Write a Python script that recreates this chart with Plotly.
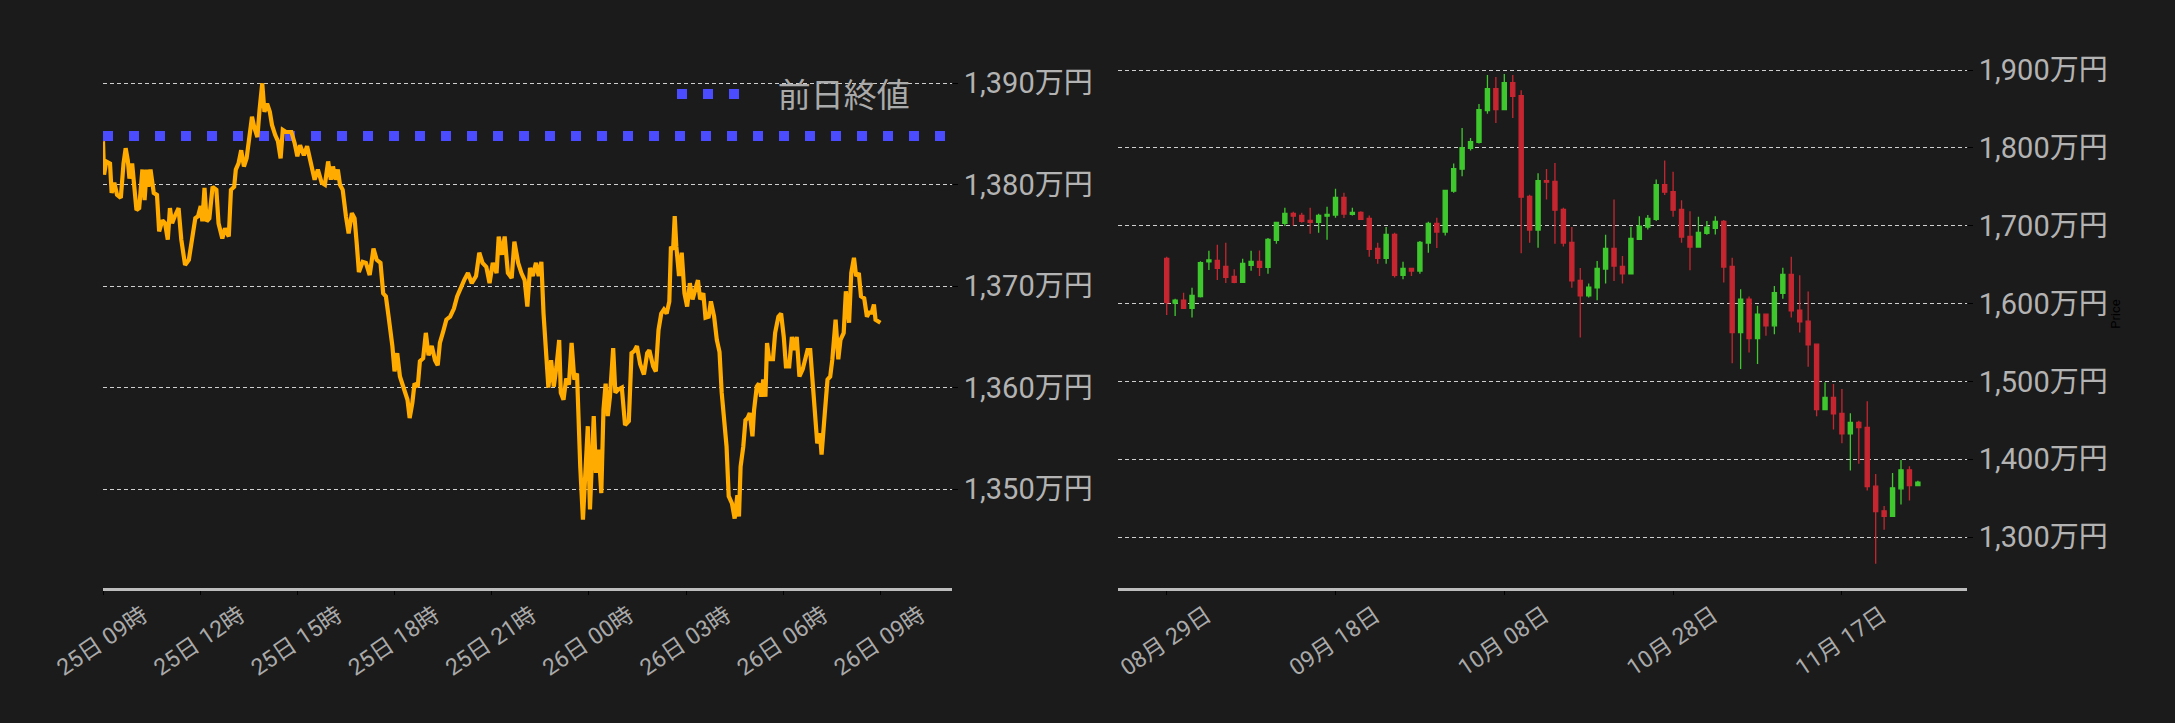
import pandas as pd
import plotly.graph_objects as go

# ---------------- data: intraday (minutes after 25日 09:00, price in 万円) ----------------
intraday_start = "2025-11-25 09:00"
intraday_minutes = [
    0, 2, 6, 13, 16, 21, 26, 33, 38, 42, 46, 49, 54, 57, 62, 67, 73, 77, 81, 84, 88, 94, 100,
    104, 110, 115, 120, 124, 128, 133, 140, 145, 152, 159, 165, 171, 176, 181, 184, 188, 192,
    197, 203, 210, 214, 221, 226, 233, 237, 243, 246, 251, 256, 261, 266, 271, 276, 280, 286,
    290, 295, 299, 304, 309, 313, 319, 324, 329, 333, 339, 349, 355, 360, 365, 372, 378, 385,
    392, 398, 405, 411, 417, 422, 426, 431, 435, 439, 444, 450, 455, 461, 466, 470, 474, 481,
    487, 494, 501, 507, 514, 519, 524, 529, 536, 540, 545, 550, 557, 564, 568, 573, 577, 583,
    587, 593, 598, 603, 609, 615, 620, 624, 631, 636, 643, 650, 656, 663, 669, 676, 683, 691,
    697, 703, 710, 716, 722, 729, 733, 739, 744, 750, 757, 762, 769, 775, 781, 786, 791, 796,
    802, 807, 812, 816, 820, 825, 830, 835, 840, 845, 848, 853, 858, 863, 868, 873, 878, 881,
    884, 889, 893, 898, 902, 909, 913, 918, 923, 927, 931, 935, 939, 945, 949, 954, 961, 967,
    974, 979, 984, 989, 995, 1002, 1008, 1012, 1019, 1024, 1029, 1034, 1039, 1044, 1049, 1052,
    1056, 1059, 1062, 1067, 1072, 1077, 1082, 1087, 1092, 1097, 1102, 1106, 1112, 1116, 1122,
    1126, 1132, 1137, 1142, 1146, 1151, 1155, 1159, 1165, 1170, 1175, 1178, 1181, 1186, 1190,
    1194, 1198, 1203, 1206, 1211, 1215, 1219, 1223, 1227, 1230, 1234, 1241, 1245, 1251, 1256,
    1261, 1265, 1271, 1276, 1280, 1285, 1290, 1296, 1300, 1305, 1310, 1315, 1319, 1323, 1328,
    1331, 1337, 1342, 1347, 1351, 1357, 1362, 1366, 1372, 1376, 1382, 1386, 1391, 1395, 1400,
    1404, 1410, 1415, 1419, 1424, 1428, 1431, 1436, 1440,
]
intraday_prices = [
    1384.3, 1381.0, 1382.3, 1382.1, 1379.2, 1380.2, 1379.0, 1378.7, 1382.1, 1383.6, 1382.4,
    1380.6, 1382.1, 1380.5, 1377.5, 1377.7, 1381.5, 1378.5, 1381.5, 1379.8, 1381.5, 1379.2,
    1379.0, 1375.4, 1376.5, 1376.2, 1374.6, 1377.7, 1376.2, 1376.9, 1377.7, 1374.6, 1372.1,
    1372.6, 1374.4, 1376.7, 1376.9, 1377.9, 1376.4, 1379.7, 1376.4, 1376.7, 1379.8, 1379.5,
    1376.2, 1374.7, 1375.7, 1374.9, 1379.5, 1379.8, 1381.5, 1382.1, 1383.4, 1381.8, 1382.6,
    1385.1, 1386.7, 1385.7, 1384.7, 1387.4, 1390.0, 1387.2, 1388.0, 1387.2, 1385.9, 1384.9,
    1384.3, 1382.6, 1385.4, 1385.2, 1385.2, 1384.1, 1382.8, 1383.9, 1382.9, 1383.8, 1382.1,
    1380.5, 1381.5, 1380.2, 1380.0, 1382.3, 1380.5, 1381.8, 1380.5, 1381.5, 1380.0, 1379.5,
    1376.9, 1375.2, 1377.2, 1376.7, 1374.2, 1371.4, 1372.4, 1372.3, 1371.1, 1373.7, 1372.6,
    1372.3, 1369.3, 1369.0, 1367.0, 1364.1, 1361.6, 1363.4, 1361.1, 1359.8, 1358.8, 1357.0,
    1358.5, 1360.4, 1360.1, 1362.6, 1362.9, 1365.4, 1363.2, 1364.1, 1362.7, 1362.2, 1364.4,
    1365.7, 1366.7, 1367.0, 1367.8, 1369.0, 1370.0, 1370.6, 1371.3, 1370.3, 1371.0, 1373.3,
    1372.3, 1371.9, 1370.3, 1372.3, 1371.3, 1374.9, 1373.1, 1374.9, 1371.3, 1370.8, 1374.4,
    1372.3, 1371.3, 1370.6, 1368.0, 1371.8, 1371.0, 1372.3, 1371.0, 1372.4, 1367.3, 1363.7,
    1360.0, 1362.7, 1360.1, 1362.1, 1364.7, 1359.5, 1358.8, 1360.9, 1360.3, 1364.4, 1360.8,
    1361.4, 1354.9, 1352.2, 1347.0, 1351.2, 1356.2, 1348.0, 1357.2, 1351.6, 1353.9, 1349.6,
    1357.8, 1360.4, 1357.2, 1359.1, 1363.9, 1359.5, 1359.8, 1360.0, 1356.3, 1356.7, 1363.4,
    1363.6, 1364.1, 1362.3, 1361.3, 1363.4, 1363.7, 1362.1, 1361.6, 1365.7, 1367.3, 1367.7,
    1367.3, 1368.5, 1373.9, 1373.6, 1376.9, 1373.9, 1371.0, 1373.3, 1369.3, 1368.0, 1370.3,
    1368.7, 1369.6, 1370.6, 1368.7, 1369.3, 1366.9, 1367.0, 1368.5, 1367.0, 1364.7, 1363.5,
    1359.5, 1356.2, 1354.2, 1349.3, 1348.6, 1347.1, 1349.4, 1347.3, 1352.2, 1354.2, 1356.8,
    1357.0, 1357.5, 1355.2, 1357.8, 1360.1, 1360.4, 1359.1, 1360.8, 1359.1, 1364.4, 1362.8,
    1362.8, 1365.4, 1367.0, 1367.3, 1365.0, 1362.1, 1362.1, 1365.0, 1363.7, 1365.0, 1361.1,
    1361.8, 1362.8, 1363.7, 1363.7, 1360.4, 1357.5, 1354.5, 1355.5, 1353.4, 1357.5, 1360.8,
    1361.1, 1362.8, 1366.7, 1362.8, 1364.7, 1365.4, 1369.5, 1366.4, 1371.3, 1372.8, 1371.0,
    1371.3, 1369.0, 1368.8, 1367.0, 1367.4, 1367.4, 1368.2, 1366.7, 1366.5, 1366.4,
]
prev_close = 1384.8
prev_close_label = "前日終値"

left_tick_times = ["2025-11-25 09:00", "2025-11-25 12:00", "2025-11-25 15:00",
                   "2025-11-25 18:00", "2025-11-25 21:00", "2025-11-26 00:00",
                   "2025-11-26 03:00", "2025-11-26 06:00", "2025-11-26 09:00"]
left_tick_labels = ["25日 09時", "25日 12時", "25日 15時", "25日 18時", "25日 21時",
                    "26日 00時", "26日 03時", "26日 06時", "26日 09時"]
left_y_ticks = [1350, 1360, 1370, 1380, 1390]

# ---------------- data: daily OHLC (万円) ----------------
daily_start = "2025-08-29"
opens = [1658.0, 1600.4, 1604.2, 1593.9, 1608.9, 1653.4, 1655.5, 1647.8, 1635.0, 1627.3,
         1649.1, 1654.2, 1646.5, 1681.1, 1702.9, 1715.7, 1713.2, 1706.8, 1704.2, 1712.3,
         1713.6, 1736.3, 1714.5, 1717.0, 1709.3, 1670.9, 1658.0, 1688.8, 1636.3, 1645.2,
         1641.8, 1677.7, 1702.9, 1691.8, 1744.4, 1772.6, 1799.5, 1807.2, 1847.8, 1876.0,
         1849.1, 1883.7, 1867.0, 1737.5, 1694.4, 1758.0, 1756.8, 1720.9, 1678.6, 1629.8,
         1609.8, 1620.0, 1644.4, 1670.9, 1647.8, 1638.0, 1682.4, 1698.2, 1708.1, 1752.9,
         1743.9, 1720.9, 1686.3, 1672.6, 1690.1, 1696.5, 1705.5, 1647.8, 1562.8, 1605.5,
         1555.1, 1586.3, 1571.3, 1613.2, 1637.5, 1591.4, 1577.3, 1547.8, 1463.6, 1479.4,
         1458.9, 1432.4, 1447.4, 1441.0, 1365.3, 1333.7, 1326.4, 1361.9, 1386.3, 1366.2]
highs = [1660.2, 1606.3, 1614.0, 1620.4, 1654.2, 1667.9, 1675.6, 1678.1, 1644.0, 1657.6,
         1667.9, 1668.0, 1684.1, 1704.2, 1723.0, 1717.9, 1716.6, 1723.0, 1715.3, 1724.3,
         1747.4, 1742.2, 1723.0, 1718.7, 1713.2, 1678.1, 1698.2, 1691.0, 1653.8, 1646.1,
         1680.3, 1705.1, 1710.2, 1745.2, 1779.8, 1825.6, 1812.8, 1856.3, 1893.5, 1891.0,
         1894.8, 1893.5, 1873.9, 1739.7, 1767.4, 1773.0, 1780.7, 1723.0, 1698.2, 1645.6,
         1625.6, 1654.6, 1688.4, 1733.7, 1661.0, 1698.7, 1712.3, 1713.6, 1759.3, 1783.7,
         1769.2, 1732.8, 1718.7, 1711.5, 1705.9, 1712.3, 1707.2, 1658.9, 1618.3, 1608.9,
         1597.0, 1587.0, 1622.6, 1646.1, 1660.2, 1636.3, 1615.3, 1548.5, 1498.7, 1496.5,
         1490.1, 1458.9, 1449.5, 1474.3, 1381.1, 1339.7, 1382.4, 1399.1, 1391.0, 1372.4]
lows = [1585.4, 1584.1, 1593.5, 1582.0, 1607.6, 1643.1, 1630.3, 1626.4, 1626.0, 1627.3,
        1642.2, 1635.4, 1638.4, 1676.9, 1699.5, 1700.4, 1703.8, 1689.7, 1691.0, 1682.0,
        1710.2, 1709.8, 1713.2, 1707.2, 1660.2, 1651.2, 1651.2, 1633.3, 1631.1, 1635.4,
        1638.4, 1665.3, 1671.3, 1687.5, 1742.2, 1763.6, 1796.5, 1805.5, 1843.9, 1832.0,
        1849.1, 1838.4, 1664.5, 1678.1, 1671.7, 1733.7, 1676.9, 1673.4, 1620.4, 1556.3,
        1607.6, 1604.2, 1625.6, 1629.0, 1625.6, 1638.0, 1681.6, 1695.2, 1705.9, 1739.3,
        1711.5, 1678.1, 1642.7, 1672.6, 1688.4, 1688.8, 1626.9, 1523.4, 1515.8, 1537.1,
        1522.2, 1558.5, 1560.6, 1606.3, 1582.0, 1562.8, 1518.7, 1455.1, 1463.0, 1438.0,
        1420.5, 1385.4, 1394.0, 1359.8, 1265.7, 1309.3, 1326.4, 1341.8, 1346.9, 1366.2]
closes = [1601.2, 1604.2, 1593.9, 1610.6, 1652.5, 1655.9, 1645.2, 1633.7, 1627.3, 1651.6,
          1654.2, 1646.5, 1682.4, 1704.2, 1715.7, 1712.3, 1705.5, 1704.2, 1713.2, 1714.5,
          1736.3, 1714.9, 1717.0, 1708.1, 1669.6, 1658.0, 1688.8, 1636.3, 1645.2, 1641.8,
          1678.5, 1702.9, 1691.8, 1745.2, 1773.4, 1800.4, 1808.0, 1849.1, 1876.0, 1849.1,
          1883.7, 1866.2, 1736.7, 1694.4, 1758.0, 1755.9, 1720.0, 1677.7, 1629.0, 1609.8,
          1620.9, 1645.2, 1670.9, 1648.2, 1638.0, 1683.7, 1699.5, 1709.3, 1752.9, 1743.1,
          1720.0, 1685.4, 1672.6, 1691.4, 1698.1, 1705.5, 1646.9, 1562.8, 1605.5, 1555.1,
          1586.3, 1571.3, 1614.0, 1637.5, 1590.5, 1576.4, 1547.0, 1463.6, 1479.4, 1458.1,
          1432.4, 1447.4, 1440.5, 1364.9, 1332.8, 1326.4, 1363.2, 1386.3, 1366.2, 1370.5]
right_tick_dates = ["2025-08-29", "2025-09-18", "2025-10-08", "2025-10-28", "2025-11-17"]
right_tick_labels = ["08月 29日", "09月 18日", "10月 08日", "10月 28日", "11月 17日"]
right_y_ticks = [1300, 1400, 1500, 1600, 1700, 1800, 1900]
right_axis_title = "Price"

# ---------------- figure ----------------
BG = "#1b1b1b"
TICK_COL = "#b3b3b3"
FONT = "Roboto, 'Noto Sans CJK JP', sans-serif"

t0 = pd.Timestamp(intraday_start)
intraday_x = t0 + pd.to_timedelta(intraday_minutes, unit="min")
left_range = [t0, t0 + pd.Timedelta(hours=26.21)]
daily_x = pd.date_range(daily_start, periods=len(closes), freq="D")
d0 = pd.Timestamp(daily_start)
right_range = [d0 - pd.Timedelta(days=5.77), d0 + pd.Timedelta(days=94.82)]

fig = go.Figure()
fig.add_trace(go.Scatter(
    x=left_range, y=[prev_close, prev_close], mode="lines", name="\u2003" + prev_close_label,
    line=dict(color="#4b4bff", width=10, dash="10px,16px"),
    xaxis="x", yaxis="y", showlegend=True, hoverinfo="skip"))
fig.add_trace(go.Scatter(
    x=intraday_x, y=intraday_prices, mode="lines", name="price",
    line=dict(color="#ffab00", width=4.2), xaxis="x", yaxis="y", showlegend=False))
fig.add_trace(go.Candlestick(
    x=daily_x, open=opens, high=highs, low=lows, close=closes,
    increasing=dict(line=dict(color="#3fc82e", width=1.3), fillcolor="#3fc82e"),
    decreasing=dict(line=dict(color="#c62630", width=1.3), fillcolor="#c62630"),
    whiskerwidth=0, xaxis="x2", yaxis="y2", showlegend=False))

ydom = [135 / 723, 683 / 723]
grid = dict(showgrid=True, gridcolor="#cfcfcf", gridwidth=1, griddash="4px,3px",
            zeroline=False, showline=False, side="right", ticks="outside", ticklen=5,
            tickcolor="#000000", automargin=False,
            tickfont=dict(size=29, color=TICK_COL, family=FONT))
xbase = dict(showgrid=False, zeroline=False, showline=True, linecolor="#bdbdbd", linewidth=3,
             ticks="outside", ticklen=4, tickcolor="#000000", tickangle=-34, automargin=False,
             tickfont=dict(size=23, color="#aaaaaa", family=FONT), ticklabelshift=40,
             ticklabelstandoff=-2)

fig.update_layout(
    width=2175, height=723, margin=dict(l=0, r=0, t=0, b=0, autoexpand=False),
    paper_bgcolor=BG, plot_bgcolor=BG, font=dict(family=FONT),
    xaxis=dict(xbase, domain=[103 / 2175, 952 / 2175], range=left_range, anchor="y",
               tickmode="array", tickvals=pd.to_datetime(left_tick_times), ticktext=left_tick_labels),
    yaxis=dict(grid, domain=ydom, range=[1340.25, 1394.27], anchor="x",
               tickmode="array", tickvals=left_y_ticks,
               ticktext=[f"{v:,}万円" for v in left_y_ticks]),
    xaxis2=dict(xbase, domain=[1118 / 2175, 1967 / 2175], range=right_range, anchor="y2",
                rangeslider=dict(visible=False),
                tickmode="array", tickvals=pd.to_datetime(right_tick_dates), ticktext=right_tick_labels),
    yaxis2=dict(grid, domain=ydom, range=[1234.5, 1938.6], anchor="x2",
                tickmode="array", tickvals=right_y_ticks,
                ticktext=[f"{v:,}万円" for v in right_y_ticks],
                title=dict(text=right_axis_title, font=dict(size=13, color="#000000", family=FONT),
                           standoff=4)),
    legend=dict(x=672 / 2175, y=1 - 94 / 723, xanchor="left", yanchor="middle",
                bgcolor="rgba(0,0,0,0)", font=dict(size=33, color="#aaaaaa", family=FONT),
                itemwidth=62),
    showlegend=True,
)

fig.write_html(
    "out.html",
    config={"displayModeBar": False},
    post_script="document.body.style.margin='0';document.body.style.backgroundColor='#1b1b1b';",
)
